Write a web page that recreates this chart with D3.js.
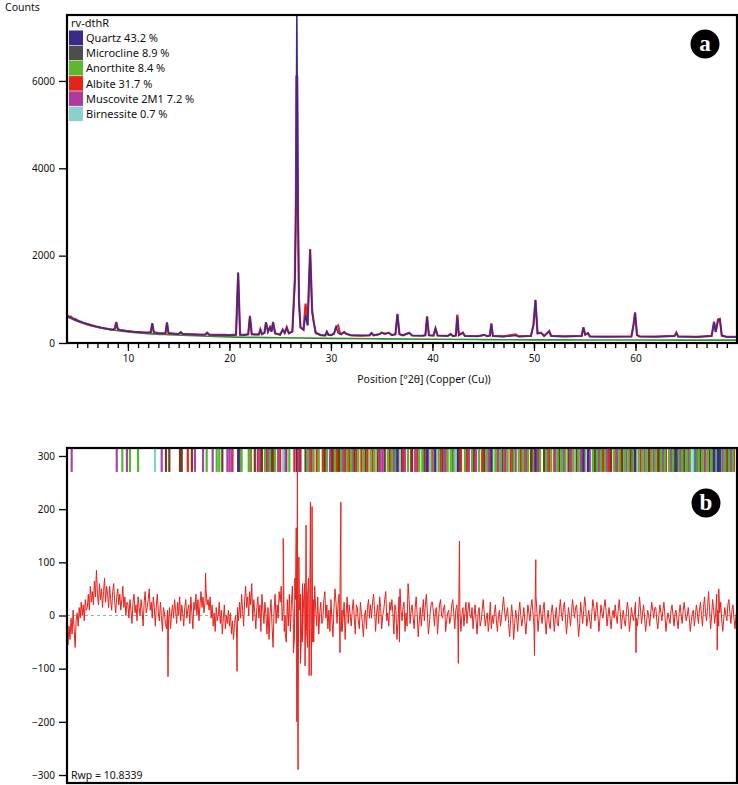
<!DOCTYPE html>
<html><head><meta charset="utf-8">
<script src="https://cdn.jsdelivr.net/npm/d3@7/dist/d3.min.js"></script>
<style>
html,body{margin:0;padding:0;background:#fff;}
svg{display:block;font-family:"Noto Sans",sans-serif;}
</style></head>
<body><svg id="c" width="738" height="785"></svg>
<script>
// ---------- DATA ----------
const phaseNames = ["Quartz 43.2 %","Microcline 8.9 %","Anorthite 8.4 %","Albite 31.7 %","Muscovite 2M1 7.2 %","Birnessite 0.7 %"];
const phaseColors = ["#3a2a8a","#4d4d4d","#5cb82e","#e4231b","#aa3c9a","#8ccfcf"];
const markerColors = ["#3a2a9a","#6a3f22","#4cbb2a","#e8231b","#b040a8","#7fd0d8"];
const yTicksA = [0,2000,4000,6000];
const xTicksMajor = [10,20,30,40,50,60];
const yTicksB = [-300,-200,-100,0,100,200,300];

// background (counts)
const background = [[4,600],[5,500],[6,420],[7,360],[8,315],[9,280],[10,255],[12,215],[14,190],[16,170],[18,155],[20,140],[25,120],[30,105],[35,95],[40,85],[45,78],[50,72],[55,70],[60,68],[70,66]];

// calculated profile [2theta, counts]
const calcProfile = [[4,620],[4.5,565],[5,515],[5.5,470],[6,435],[6.5,400],[7,370],[7.5,345],[8,322],[8.5,305],[8.7,320],[8.85,470],[9.0,320],[9.2,295],[10,270],[11,250],[12,235],[12.25,245],[12.4,455],[12.55,245],[13,225],[13.7,218],[13.85,470],[14.0,222],[14.5,212],[15,205],[15.2,250],[15.4,205],[16,198],[17,190],[17.6,188],[17.8,230],[18,188],[19,183],[20,180],[20.65,190],[20.86,1620],[21.05,190],[21.5,185],[21.85,200],[22.02,600],[22.2,200],[22.9,195],[23.05,300],[23.2,200],[23.45,230],[23.6,480],[23.8,260],[24.0,370],[24.15,260],[24.3,470],[24.5,220],[25,190],[25.25,300],[25.45,230],[25.65,350],[25.85,220],[26.2,260],[26.45,1400],[26.55,3000],[26.64,7700],[26.75,3200],[26.85,900],[27.0,350],[27.3,300],[27.5,640],[27.7,400],[27.95,2130],[28.15,700],[28.3,480],[28.5,230],[29,180],[29.45,175],[29.6,260],[29.75,190],[30,180],[30.3,210],[30.5,370],[30.7,230],[31.0,200],[31.3,250],[31.5,210],[32,175],[33,170],[33.8,175],[34.0,230],[34.2,175],[34.8,200],[35.0,230],[35.3,210],[35.7,230],[36,180],[36.35,200],[36.55,670],[36.75,200],[37.1,175],[37.7,230],[38,170],[39,165],[39.3,175],[39.47,600],[39.65,175],[40.1,170],[40.3,340],[40.5,170],[41.5,160],[41.8,200],[42.0,160],[42.3,170],[42.45,600],[42.6,180],[43.0,230],[43.2,160],[44.5,155],[45.1,180],[45.4,155],[45.65,170],[45.8,440],[45.95,160],[47,150],[48.2,170],[48.5,150],[49.7,160],[49.95,400],[50.15,990],[50.35,220],[50.7,230],[51,160],[51.5,260],[51.7,160],[53,150],[54.7,160],[54.87,350],[55.05,190],[55.33,220],[55.5,150],[57,145],[59.6,150],[59.8,400],[59.96,690],[60.15,180],[60.4,150],[62,145],[63.85,160],[64.03,230],[64.2,150],[66,140],[67.5,160],[67.74,480],[67.9,250],[68.14,530],[68.31,540],[68.5,170],[69,140],[70,140]];

// observed profile [2theta, counts]
const obsProfile = [[4,640],[4.2,598],[4.4,605],[4.6,555],[4.8,552],[5,522],[5.2,498],[5.4,488],[5.6,458],[5.8,452],[6,432],[6.2,420],[6.4,405],[6.6,398],[6.8,378],[7,372],[7.2,358],[7.4,350],[7.6,338],[7.8,335],[8,322],[8.3,312],[8.5,305],[8.7,322],[8.85,480],[9.0,322],[9.2,297],[9.5,290],[9.8,276],[10.1,272],[10.4,262],[10.7,256],[11,252],[11.4,242],[11.8,238],[12,236],[12.25,248],[12.4,445],[12.55,246],[13,228],[13.4,222],[13.7,220],[13.85,465],[14.0,224],[14.5,214],[15,206],[15.2,245],[15.4,207],[16,200],[16.5,196],[17,193],[17.6,190],[17.8,240],[18,192],[18.5,188],[19,184],[19.5,186],[20,182],[20.65,190],[20.86,1600],[21.05,192],[21.5,186],[21.85,200],[22.02,620],[22.2,202],[22.6,190],[22.9,196],[23.05,310],[23.2,202],[23.45,232],[23.6,470],[23.8,262],[24.0,360],[24.15,262],[24.3,480],[24.5,222],[25,192],[25.25,310],[25.45,232],[25.65,360],[25.85,222],[26.2,262],[26.45,1500],[26.55,3300],[26.6,6100],[26.68,6100],[26.75,3100],[26.85,1000],[27.0,360],[27.3,305],[27.5,900],[27.7,410],[27.95,2150],[28.15,740],[28.3,490],[28.5,232],[29,182],[29.45,176],[29.6,255],[29.75,190],[30,182],[30.3,212],[30.5,360],[30.7,400],[30.9,210],[31.0,202],[31.3,255],[31.5,210],[32,176],[33,171],[33.8,176],[34.0,225],[34.2,176],[34.8,205],[35.0,240],[35.3,212],[35.7,235],[36,182],[36.35,200],[36.55,660],[36.75,202],[37.1,176],[37.7,235],[38,171],[39,166],[39.3,176],[39.47,610],[39.65,176],[40.1,171],[40.3,330],[40.5,171],[41.5,161],[41.8,210],[42.0,161],[42.3,171],[42.45,650],[42.6,182],[43.0,238],[43.2,161],[44.5,156],[45.1,188],[45.4,156],[45.65,171],[45.8,450],[45.95,161],[47,151],[48.2,195],[48.5,151],[49.7,161],[49.95,420],[50.15,980],[50.35,222],[50.7,238],[51,161],[51.5,275],[51.7,161],[53,151],[54.7,161],[54.87,360],[55.05,191],[55.33,230],[55.5,151],[57,146],[59.6,151],[59.8,410],[59.96,700],[60.15,181],[60.4,151],[62,146],[63.85,161],[64.03,240],[64.2,151],[66,141],[67.5,161],[67.74,490],[67.9,255],[68.14,540],[68.31,550],[68.5,171],[69,141],[70,141]];

// difference curve: regular samples from 4.0 deg every 0.1 deg
const diffStart = 4.0, diffStep = 0.1;
const diffValues = [
-30,-55,-20,-45,-5,-35,10,-25,-60,-10,5,-20,15,-5,25,0,20,-10,30,10,
15,40,10,55,25,45,20,65,35,85,40,20,60,30,50,15,45,70,25,55,
40,15,55,30,10,45,60,25,5,35,50,20,40,10,30,55,15,35,0,25,
20,-5,30,10,-15,25,40,5,20,-10,35,15,0,30,10,-20,25,45,5,15,
30,50,10,25,-5,35,15,-20,20,40,5,-10,25,0,-30,15,5,-15,-25,10,
-10,15,-25,5,20,-5,30,10,-15,25,0,35,-10,20,5,-20,15,30,-5,10,
20,-15,35,5,-25,25,10,40,0,30,-10,20,45,15,35,5,25,50,20,30,
10,35,-5,20,-20,5,-30,15,-10,0,25,-15,10,-35,-5,20,-25,0,-15,10,
-20,5,-35,-10,-45,-15,0,-25,15,-10,25,-5,40,10,-20,30,55,15,35,0,
45,20,60,-10,30,5,-25,15,35,-5,20,-30,40,10,-15,25,0,-35,15,-45,
5,30,-20,-60,10,40,-15,20,-5,45,25,55,-10,20,-30,0,-50,30,-20,40,
-30,20,55,-15,-45,30,80,-20,-60,10,40,-35,-50,25,60,-10,-30,40,70,-25,
40,-20,-50,30,55,10,-20,35,-35,5,25,-15,-10,30,45,-5,20,-25,10,-30,
30,-10,-40,15,50,25,-15,20,40,60,-30,10,-5,25,-45,5,35,-15,20,0,
-20,10,30,-5,-35,20,15,-10,-25,25,5,-15,-40,0,10,-25,15,30,-5,20,
-5,25,40,10,-30,5,20,-15,35,15,-25,0,10,30,45,-10,5,-20,25,10,
30,5,-35,20,10,-45,-15,35,50,10,-10,15,25,-30,5,-20,60,30,-15,10,
20,-5,-25,15,35,0,-40,-10,15,-20,5,30,-10,20,40,5,-35,-15,10,25,
25,5,-20,10,15,-35,-5,20,30,0,-5,15,20,-30,-10,5,10,-15,-5,20,
30,5,-25,10,20,-10,35,15,-30,0,15,-20,5,25,-15,10,25,0,-5,15,
-25,0,20,-10,-35,5,15,-20,-10,10,30,5,-20,-5,5,-30,-10,25,-25,0,
-15,5,20,-10,-30,0,10,-20,-5,15,35,10,-10,5,15,-15,-40,-10,20,0,
-45,-15,10,-5,-30,5,25,0,-20,-5,15,-10,-35,-10,20,5,-10,15,30,5,
-20,10,35,5,-30,-5,20,0,-15,10,25,-10,-35,-5,10,-15,-25,5,20,0,
-30,-5,15,-15,-20,10,30,5,-10,15,25,-5,-35,-10,15,0,-20,5,30,10,
-5,15,20,-10,-40,-15,25,5,-15,10,35,15,-20,-5,10,-10,-25,5,30,15,
-10,10,25,0,-30,-5,20,5,-5,15,30,10,-20,0,15,-5,-25,0,10,-5,
20,0,-15,10,30,5,-25,-5,10,-10,-20,5,25,10,-30,-10,15,0,-10,5,
25,-5,-20,5,35,10,-15,5,20,-5,-30,-10,10,0,-20,5,25,10,-5,15,
15,-10,-25,0,20,5,-10,10,25,0,-30,-10,5,-5,-15,10,20,0,-20,5,
10,-10,-25,5,20,0,-15,10,25,5,-10,0,15,-5,-30,-10,5,10,-20,0,
20,5,-15,10,25,0,-20,15,35,5,-10,15,45,10,-25,0,30,10,-15,5,
40,10,-20,5,25,-10,-30,-5,15,0,-10,20,30,5,-15,10,20,-5,-25,0,
10];
// difference spikes [2theta, value]
const diffSpikes = [[13.95,-115],[17.65,80],[20.75,-105],[25.3,145],[25.5,-35],[26.3,-70],[26.45,70],[26.58,165],[26.64,-200],[26.7,320],[26.76,-290],[26.84,110],[27.0,-90],[27.2,60],[27.45,-95],[27.55,170],[27.7,-60],[27.85,-113],[27.98,213],[28.06,-113],[28.14,205],[28.3,-50],[30.9,-70],[30.98,213],[31.1,-30],[36.75,-50],[42.55,-90],[42.66,140],[50.05,-75],[50.18,105],[60.05,-70],[68.05,-65],[68.2,50]];

// reflection markers per phase (2theta)
const quartzMk = [20.86,26.64,36.54,39.47,40.29,42.45,45.79,50.14,54.87,55.33,59.96,64.03,65.79,67.74,68.14,68.31];
const microclineMk = [13.75,14.08,15.13,15.3,16.3,19.3,21.0,22.5,23.2,24.2,25.6,26.9,27.5,29.4,30.1,30.8,32.3,33.4,34.6,35.3,36.9,38.0,39.2,41.0,42.6,44.0,45.1,46.9,47.9,49.7,51.0,52.5,53.4,54.2,56.0,57.6,58.7,59.5,61.3,62.3,63.9,64.8,66.4,67.3,69.1];
const anorthiteMk = [9.45,10.2,11.0,17.76,18.75,19.0,21.2,21.9,22.0,23.5,24.0,24.5,25.9,27.7,28.3,28.8,29.6,30.4,31.0,31.6,32.0,32.7,33.2,33.9,34.3,35.6,36.0,36.4,37.6,38.7,39.0,39.9,40.6,41.5,41.8,42.1,43.2,43.9,44.6,45.3,45.9,46.2,46.7,47.4,48.0,48.5,48.9,49.4,50.0,50.6,51.2,51.7,52.3,52.7,53.1,53.9,54.4,55.0,55.8,56.2,56.6,57.0,57.9,58.4,58.9,59.3,59.8,60.3,60.7,61.1,61.6,62.0,62.5,62.9,63.3,63.7,64.2,64.6,65.0,65.4,65.9,66.2,66.6,67.1,67.5,68.0,68.4,68.8,69.2,69.6];
const albiteMk = [15.9,20.3,22.1,22.8,23.1,23.7,24.3,25.0,26.4,27.0,27.9,28.1,28.6,29.2,30.2,30.6,31.4,31.8,32.5,33.0,33.6,34.1,34.8,35.8,36.7,37.1,37.9,38.5,39.4,40.0,40.8,41.3,42.0,42.8,43.4,44.2,44.9,45.6,46.4,47.2,47.7,48.7,49.3,49.9,50.5,51.5,52.0,53.0,53.6,54.7,55.3,56.1,56.8,57.4,58.1,58.6,59.7,60.5,61.4,62.2,63.0,63.8,64.5,65.3,66.1,66.8,67.6,68.2,68.9,69.7];
const muscoviteMk = [4.46,8.9,9.9,13.33,16.6,17.4,18.35,19.8,20.0,20.2,22.9,23.8,24.8,25.5,26.8,27.9,29.9,31.2,32.1,34.9,35.1,36.2,37.3,38.3,39.6,40.2,41.2,42.4,43.6,44.3,45.5,46.5,47.1,48.2,49.1,50.3,51.3,52.1,52.9,53.7,54.6,55.5,56.4,57.2,58.2,59.1,60.0,60.9,61.8,62.7,63.5,64.4,65.2,66.0,66.9,67.8,68.6,69.4];
const birnessiteMk = [12.67,25.3,36.8,42.3,65.7];

// ---------- DRAW ----------
const svg = d3.select("#c");
const L = 67, R = 737;
const x = d3.scaleLinear().domain([4,70]).range([L,R]);
const yA = d3.scaleLinear().domain([0,7510]).range([343,15]);
const yB = d3.scaleLinear().domain([-315,315]).range([783,448]);

const defs = svg.append("defs");
defs.append("clipPath").attr("id","clipA").append("rect").attr("x",L).attr("y",15).attr("width",R-L).attr("height",343-15);
defs.append("clipPath").attr("id","clipB").append("rect").attr("x",L).attr("y",448).attr("width",R-L).attr("height",783-448);

// Panel A
const gA = svg.append("g").attr("clip-path","url(#clipA)");
const lineA = d3.line().x(d=>x(d[0])).y(d=>yA(d[1]));
gA.append("path").datum(background).attr("fill","none").attr("stroke","#2f8f2f").attr("stroke-width",1.6)
  .attr("d", d3.line().x(d=>x(d[0])).y(d=>yA(d[1])).curve(d3.curveMonotoneX));
gA.append("path").datum(obsProfile).attr("fill","none").attr("stroke","#e8221b").attr("stroke-width",2.2).attr("d",lineA);
gA.append("path").datum(calcProfile).attr("fill","none").attr("stroke","#3a2a96").attr("stroke-width",1.5).attr("d",lineA);

// axes A
const axYA = svg.append("g").attr("transform",`translate(${L},0)`)
  .call(d3.axisLeft(yA).tickValues(yTicksA).tickSize(8).tickPadding(4).tickFormat(d3.format("d")));
const axXA = svg.append("g").attr("transform","translate(0,343)")
  .call(d3.axisBottom(x).tickValues(d3.range(5,70,1)).tickSize(5).tickFormat(""));
const axXA2 = svg.append("g").attr("transform","translate(0,343)")
  .call(d3.axisBottom(x).tickValues(xTicksMajor).tickSize(8).tickPadding(4));
[axYA,axXA,axXA2].forEach(a=>{a.select(".domain").remove();a.selectAll("line").attr("stroke","#000").attr("stroke-width",1.3);a.selectAll("text").attr("font-size",10).attr("fill","#111").attr("font-family","Noto Sans");});

svg.append("rect").attr("x",L).attr("y",15).attr("width",R-L).attr("height",343-15).attr("fill","none").attr("stroke","#000").attr("stroke-width",2.2);

svg.append("text").attr("x",5).attr("y",11).attr("font-size",10.5).attr("fill","#111").text("Counts");
svg.append("text").attr("x",424).attr("y",383).attr("text-anchor","middle").attr("font-size",10.5).attr("fill","#111").text("Position [°2θ] (Copper (Cu))");

// legend
svg.append("text").attr("x",71).attr("y",27).attr("font-size",11).attr("fill","#111").text("rv-dthR");
phaseNames.forEach((n,i)=>{
  const top = 30.5 + i*15.2;
  svg.append("rect").attr("x",69).attr("y",top).attr("width",14).attr("height",14.6).attr("fill",phaseColors[i]);
  svg.append("text").attr("x",86).attr("y",top+11.5).attr("font-size",11).attr("fill","#111").text(n);
});

function badge(cx,cy,t){
  svg.append("circle").attr("cx",cx).attr("cy",cy).attr("r",14.5).attr("fill","#000");
  svg.append("text").attr("x",cx).attr("y",cy+7).attr("text-anchor","middle").attr("font-family","Liberation Serif, DejaVu Serif, serif")
    .attr("font-weight","bold").attr("font-size",23).attr("fill","#fff").text(t);
}
badge(705,44,"a");

// Panel B
const gB = svg.append("g").attr("clip-path","url(#clipB)");
const markerSets = [quartzMk, microclineMk, anorthiteMk, albiteMk, muscoviteMk, birnessiteMk];
const mkOrder = [3,1,4,2,0,5];
mkOrder.forEach(k=>{
  gB.selectAll(null).data(markerSets[k]).enter().append("line")
    .attr("x1",d=>x(d)).attr("x2",d=>x(d)).attr("y1",yB(315)).attr("y2",yB(270))
    .attr("stroke",markerColors[k]).attr("stroke-width",2.2);
});
gB.append("line").attr("x1",L).attr("x2",R).attr("y1",yB(0)).attr("y2",yB(0)).attr("stroke","#aaa").attr("stroke-width",1).attr("stroke-dasharray","3,3");
const diffPts = diffValues.map((v,i)=>[diffStart + i*diffStep, v]).concat(diffSpikes).sort((a,b)=>a[0]-b[0]);
gB.append("path").datum(diffPts).attr("fill","none").attr("stroke","#e8211b").attr("stroke-width",1)
  .attr("stroke-linejoin","round")
  .attr("d", d3.line().x(d=>x(d[0])).y(d=>yB(d[1])));

const axYB = svg.append("g").attr("transform",`translate(${L},0)`)
  .call(d3.axisLeft(yB).tickValues(yTicksB).tickSize(8).tickPadding(4));
axYB.select(".domain").remove();
axYB.selectAll("line").attr("stroke","#000").attr("stroke-width",1.3);
axYB.selectAll("text").attr("font-size",10).attr("fill","#111").attr("font-family","Noto Sans");

svg.append("rect").attr("x",L).attr("y",448).attr("width",R-L).attr("height",783-448).attr("fill","none").attr("stroke","#000").attr("stroke-width",2.2);
svg.append("text").attr("x",71).attr("y",779).attr("font-size",10.5).attr("fill","#111").text("Rwp = 10.8339");
badge(706,503,"b");
</script></body></html>
